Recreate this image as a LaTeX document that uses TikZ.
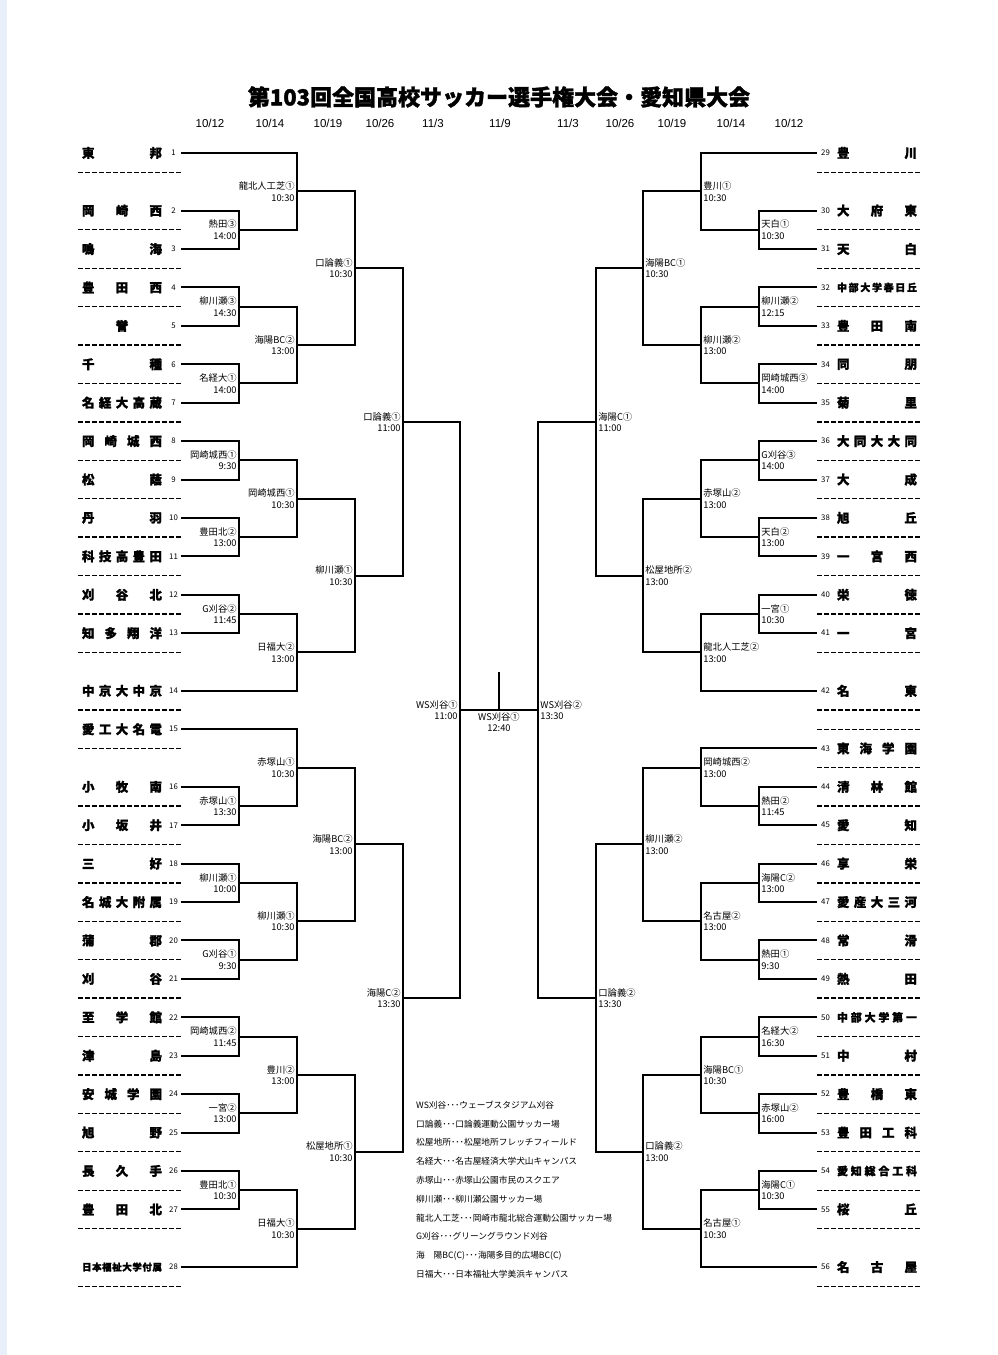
\documentclass[tikz,border=0pt]{standalone}
\usepackage{fontspec}
\setmainfont{Noto Sans CJK JP}
\newfontfamily\heavy{Noto Sans CJK JP}[BoldFeatures={FakeBold=1.6}]
\newfontfamily\lsans{Liberation Sans}
\definecolor{bandc}{RGB}{232,238,250}
\def\spreadloop#1#2\endspread{#1\if\relax\detokenize{#2}\relax\else\hfil\spreadloop#2\endspread\fi}
\def\spreadstart#1#2\endspread{\if\relax\detokenize{#2}\relax\hfil#1\hfil\else#1\hfil\spreadloop#2\endspread\fi}
\newcommand\spreadname[2]{\makebox[#1][s]{\expandafter\spreadstart#2\endspread}}
\newcommand\sy[1]{(153+19.207*(#1))}
\tikzset{
  br/.style={line width=2pt, black},
  sepline/.style={line width=1.3pt, black, dash pattern=on 5pt off 2pt},
  tname/.style={inner sep=0pt, font=\heavy\bfseries},
  tnum/.style={inner sep=0pt, font=\fontsize{7.8}{7.8}\selectfont},
  lbl/.style={inner sep=0pt, font=\fontsize{9.3}{11.5}\selectfont},
  lblL/.style={lbl, anchor=east, align=right},
  lblR/.style={lbl, anchor=west, align=left},
  datef/.style={inner sep=0pt, font=\lsans\fontsize{11.5}{11.5}\selectfont},
  leg/.style={inner sep=0pt, anchor=west, font=\fontsize{8.7}{8.7}\selectfont},
}
\begin{document}
\begin{tikzpicture}[x=1pt,y=-1pt]
\useasboundingbox (0,0) rectangle (998,1355);
\fill[white] (0,0) rectangle (998,1355);
\fill[bandc] (0,0) rectangle (7,1355);

% title and dates
\node[inner sep=0pt, font=\heavy\bfseries\fontsize{22}{22}\selectfont] (title) at (499,97) {第103回全国高校サッカー選手権大会・愛知県大会};
\node[datef] (d1) at (210,123) {10/12};
\node[datef] (d2) at (270,123) {10/14};
\node[datef] (d3) at (328,123) {10/19};
\node[datef] (d4) at (380,123) {10/26};
\node[datef] (d5) at (433,123) {11/3};
\node[datef] (d6) at (500,123) {11/9};
\node[datef] (d7) at (568,123) {11/3};
\node[datef] (d8) at (620,123) {10/26};
\node[datef] (d9) at (672,123) {10/19};
\node[datef] (d10) at (731,123) {10/14};
\node[datef] (d11) at (789,123) {10/12};

% left teams
\foreach \i/\s/\fs/\tn in {1/0/12.5/東邦,2/3/12.5/岡崎西,3/5/12.5/鳴海,4/7/12.5/豊田西,5/9/12.5/誉,6/11/12.5/千種,7/13/12.5/名経大高蔵,8/15/12.5/岡崎城西,9/17/12.5/松蔭,10/19/12.5/丹羽,11/21/12.5/科技高豊田,12/23/12.5/刈谷北,13/25/12.5/知多翔洋,14/28/12.5/中京大中京,15/30/12.5/愛工大名電,16/33/12.5/小牧南,17/35/12.5/小坂井,18/37/12.5/三好,19/39/12.5/名城大附属,20/41/12.5/蒲郡,21/43/12.5/刈谷,22/45/12.5/至学館,23/47/12.5/津島,24/49/12.5/安城学園,25/51/12.5/旭野,26/53/12.5/長久手,27/55/12.5/豊田北,28/58/9.5/日本福祉大学付属}{
  \node[tname] (n\i) at (122,{\sy{\s}}) {\fontsize{\fs}{\fs}\selectfont\spreadname{80pt}{\tn}};
  \node[tnum] (k\i) at (173.5,{\sy{\s}}) {\i};
  \coordinate (p\i) at (181,{\sy{\s}});
}
% right teams
\foreach \i/\s/\fs/\tn in {29/0/12.5/豊川,30/3/12.5/大府東,31/5/12.5/天白,32/7/10/中部大学春日丘,33/9/12.5/豊田南,34/11/12.5/同朋,35/13/12.5/菊里,36/15/12.5/大同大大同,37/17/12.5/大成,38/19/12.5/旭丘,39/21/12.5/一宮西,40/23/12.5/栄徳,41/25/12.5/一宮,42/28/12.5/名東,43/31/12.5/東海学園,44/33/12.5/清林館,45/35/12.5/愛知,46/37/12.5/享栄,47/39/12.5/愛産大三河,48/41/12.5/常滑,49/43/12.5/熱田,50/45/11/中部大学第一,51/47/12.5/中村,52/49/12.5/豊橋東,53/51/12.5/豊田工科,54/53/11/愛知総合工科,55/55/12.5/桜丘,56/58/12.5/名古屋}{
  \node[tname] (n\i) at (877,{\sy{\s}}) {\fontsize{\fs}{\fs}\selectfont\spreadname{80pt}{\tn}};
  \node[tnum] (k\i) at (825.5,{\sy{\s}}) {\i};
  \coordinate (p\i) at (817,{\sy{\s}});
}
% separators
\foreach \s in {1,4,6,8,10,12,14,16,18,20,22,24,26,29,31,34,36,38,40,42,44,46,48,50,52,54,56,59}
  \draw[sepline] (78,{\sy{\s}}) -- (181,{\sy{\s}});
\foreach \s in {1,4,6,8,10,12,14,16,18,20,22,24,26,29,30,32,34,36,38,40,42,44,46,48,50,52,54,56,59}
  \draw[sepline] (817,{\sy{\s}}) -- (920,{\sy{\s}});

% left bracket
\foreach \m/\x/\s/\a/\b/\la/\lb in {
  LA/239/4/p2/p3/熱田③/14:00,
  LB/297/2/p1/LA/龍北人工芝①/10:30,
  LC/239/8/p4/p5/柳川瀬③/14:30,
  LD/239/12/p6/p7/名経大①/14:00,
  LE/297/10/LC/LD/海陽BC②/13:00,
  LF/355/6/LB/LE/口論義①/10:30,
  LG/239/16/p8/p9/岡崎城西①/9:30,
  LH/239/20/p10/p11/豊田北②/13:00,
  LI/297/18/LG/LH/岡崎城西①/10:30,
  LJ/239/24/p12/p13/G刈谷②/11:45,
  LK/297/26/LJ/p14/日福大②/13:00,
  LL/355/22/LI/LK/柳川瀬①/10:30,
  LM/403/14/LF/LL/口論義①/11:00,
  LN/239/34/p16/p17/赤塚山①/13:30,
  LO/297/32/p15/LN/赤塚山①/10:30,
  LP/239/38/p18/p19/柳川瀬①/10:00,
  LQ/239/42/p20/p21/G刈谷①/9:30,
  LR/297/40/LP/LQ/柳川瀬①/10:30,
  LS/355/36/LO/LR/海陽BC②/13:00,
  LT/239/46/p22/p23/岡崎城西②/11:45,
  LU/239/50/p24/p25/一宮②/13:00,
  LV/297/48/LT/LU/豊川②/13:00,
  LW/239/54/p26/p27/豊田北①/10:30,
  LX/297/56/LW/p28/日福大①/10:30,
  LY/355/52/LV/LX/松屋地所①/10:30,
  LZ/403/44/LS/LY/海陽C②/13:30,
  SL/460/29/LM/LZ/WS刈谷①/11:00}{
  \coordinate (\m) at (\x,{\sy{\s}});
  \draw[br] (\a) -| (\m) |- (\b);
  \node[lblL] (t\m) at ([xshift=-2.2pt]\m) {\la\\\lb};
}
% right bracket
\foreach \m/\x/\s/\a/\b/\la/\lb in {
  RA/759/4/p30/p31/天白①/10:30,
  RB/701/2/p29/RA/豊川①/10:30,
  RC/759/8/p32/p33/柳川瀬②/12:15,
  RD/759/12/p34/p35/岡崎城西③/14:00,
  RE/701/10/RC/RD/柳川瀬②/13:00,
  RF/643/6/RB/RE/海陽BC①/10:30,
  RG/759/16/p36/p37/G刈谷③/14:00,
  RH/759/20/p38/p39/天白②/13:00,
  RI/701/18/RG/RH/赤塚山②/13:00,
  RJ/759/24/p40/p41/一宮①/10:30,
  RK/701/26/RJ/p42/龍北人工芝②/13:00,
  RL/643/22/RI/RK/松屋地所②/13:00,
  RM/596/14/RF/RL/海陽C①/11:00,
  RN/759/34/p44/p45/熱田②/11:45,
  RO/701/32/p43/RN/岡崎城西②/13:00,
  RP/759/38/p46/p47/海陽C②/13:00,
  RQ/759/42/p48/p49/熱田①/9:30,
  RR/701/40/RP/RQ/名古屋②/13:00,
  RS/643/36/RO/RR/柳川瀬②/13:00,
  RT/759/46/p50/p51/名経大②/16:30,
  RU/759/50/p52/p53/赤塚山②/16:00,
  RV/701/48/RT/RU/海陽BC①/10:30,
  RW/759/54/p54/p55/海陽C①/10:30,
  RX/701/56/RW/p56/名古屋①/10:30,
  RY/643/52/RV/RX/口論義②/13:00,
  RZ/596/44/RS/RY/口論義②/13:30,
  SR/538/29/RM/RZ/WS刈谷②/13:30}{
  \coordinate (\m) at (\x,{\sy{\s}});
  \draw[br] (\a) -| (\m) |- (\b);
  \node[lblR] (t\m) at ([xshift=2.2pt]\m) {\la\\\lb};
}
% final
\draw[br] (SL) -- (SR);
\coordinate (FB) at (499,{\sy{29}});
\coordinate (FT) at (499,672);
\draw[br] (FT) -- (FB);
\node[lbl, anchor=north, align=center] (tF) at ([yshift=-2pt]FB) {WS刈谷①\\12:40};

% legend
\foreach \i/\t in {0/WS刈谷･･･ウェーブスタジアム刈谷,1/口論義･･･口論義運動公園サッカー場,2/松屋地所･･･松屋地所フレッチフィールド,3/名経大･･･名古屋経済大学犬山キャンパス,4/赤塚山･･･赤塚山公園市民のスクエア,5/柳川瀬･･･柳川瀬公園サッカー場,6/龍北人工芝･･･岡崎市龍北総合運動公園サッカー場,7/G刈谷･･･グリーングラウンド刈谷,8/海　陽BC(C)･･･海陽多目的広場BC(C),9/日福大･･･日本福祉大学美浜キャンパス}{
  \node[leg] (g\i) at (416,{1105+18.8*\i}) {\t};
}
\end{tikzpicture}
\end{document}
